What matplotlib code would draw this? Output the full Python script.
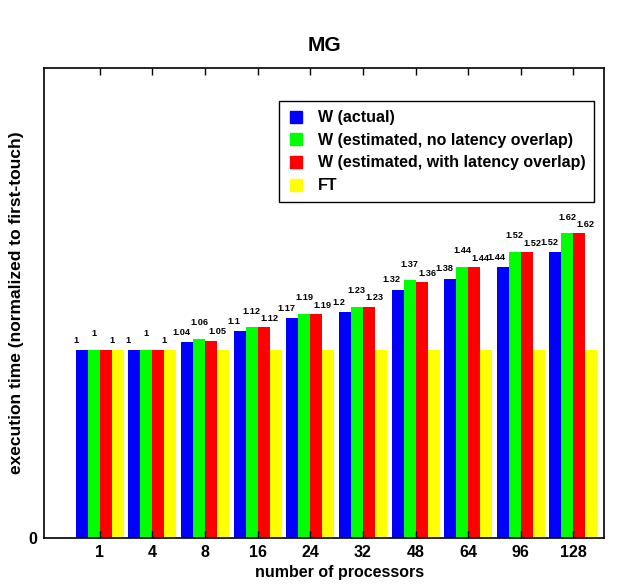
import numpy as np
import matplotlib
matplotlib.use("Agg")
import matplotlib.pyplot as plt
from matplotlib.lines import Line2D

OUTPUT_PNG = "out.png"

procs = ["1", "4", "8", "16", "24", "32", "48", "64", "96", "128"]
w_actual = [1, 1, 1.04, 1.1, 1.17, 1.2, 1.32, 1.38, 1.44, 1.52]
w_est_noov = [1, 1, 1.06, 1.12, 1.19, 1.23, 1.37, 1.44, 1.52, 1.62]
w_est_ov = [1, 1, 1.05, 1.12, 1.19, 1.23, 1.36, 1.44, 1.52, 1.62]
ft = [1, 1, 1, 1, 1, 1, 1, 1, 1, 1]

series_names = ["W (actual)", "W (estimated, no latency overlap)",
                "W (estimated, with latency overlap)", "FT"]
colors = ["#0000ff", "#00ff00", "#ff0000", "#ffff00"]


def fmt(v):
    return f"{v:g}"


def main():
    plt.rcParams["font.family"] = ["Liberation Sans", "DejaVu Sans"]
    plt.rcParams["font.weight"] = "bold"

    fig = plt.figure(figsize=(6.22, 5.85), dpi=100)
    ax = fig.add_axes([0.0707, 0.0803, 0.9003, 0.8035])

    x = np.arange(len(procs))
    w = 0.228
    data = [w_actual, w_est_noov, w_est_ov, ft]
    offsets = [-1.5 * w, -0.5 * w, 0.5 * w, 1.5 * w]
    for vals, off, c, name in zip(data, offsets, colors, series_names):
        ax.bar(x + off, vals, width=w, color=c, linewidth=0, label=name)

    # value labels: blue at left edge of its bar, green centred, red at right edge,
    # green lifted higher so they don't collide
    shift = [-0.5 * w, 0.0, 0.5 * w]
    lift = [0.053, 0.087, 0.048]
    for k in range(3):
        for i, v in enumerate(data[k]):
            ax.text(x[i] + offsets[k] + shift[k], v + lift[k], fmt(v),
                    ha="center", va="center", fontsize=6.6, fontweight="bold")

    ax.set_xlim(-1.06, 9.58)
    ax.set_ylim(0, 2.5)
    ax.set_xticks(x)
    ax.set_xticklabels(procs, fontsize=11.5, fontweight="bold")
    ax.set_yticks([0])
    ax.set_yticklabels(["0"], fontsize=11.5, fontweight="bold")
    ax.tick_params(axis="x", direction="in", length=5, width=1.0, pad=5,
                   top=True)
    ax.tick_params(axis="y", direction="in", length=0, pad=5)
    for s in ax.spines.values():
        s.set_linewidth(1.2)

    ax.set_title("MG", fontsize=15, fontweight="bold", pad=12)
    ax.set_xlabel("number of processors", fontsize=11.5, fontweight="bold")
    ax.xaxis.set_label_coords(0.527, -0.058)
    ax.set_ylabel("execution time (normalized to first-touch)", fontsize=12.5,
                  fontweight="bold")
    ax.yaxis.set_label_coords(-0.036, 0.5)

    handles = [Line2D([], [], marker="s", linestyle="none", markersize=9,
                      markerfacecolor=c, markeredgecolor=c) for c in colors]
    leg = ax.legend(handles, series_names, loc="upper right",
                    bbox_to_anchor=(0.983, 0.929),
                    prop={"weight": "bold", "size": 11.5},
                    frameon=True, fancybox=False, edgecolor="black",
                    framealpha=1, handlelength=1.0, handletextpad=0.9,
                    labelspacing=0.48, borderpad=0.55, borderaxespad=0)
    leg.get_frame().set_linewidth(1.0)

    fig.savefig(OUTPUT_PNG, dpi=100)


if __name__ == "__main__":
    main()
